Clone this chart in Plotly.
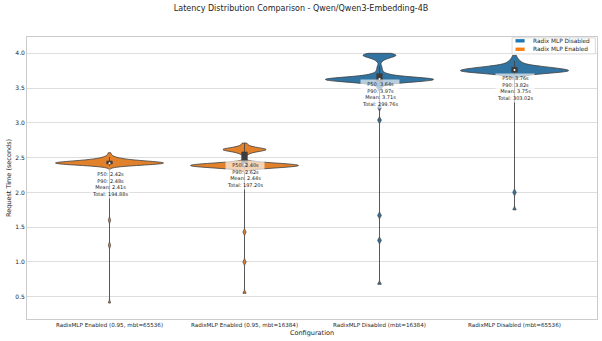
import numpy as np
import plotly.graph_objects as go

# configurations (x order) and their groups
configs = [
    "RadixMLP Enabled (0.95, mbt=65536)",
    "RadixMLP Enabled (0.95, mbt=16384)",
    "RadixMLP Disabled (mbt=16384)",
    "RadixMLP Disabled (mbt=65536)",
]
groups = ["Radix MLP Enabled", "Radix MLP Enabled", "Radix MLP Disabled", "Radix MLP Disabled"]
legend_names = ["Radix MLP Disabled", "Radix MLP Enabled"]

# request times (s), as value / count pairs
enabled_65536_vals = [0.41, 1.24, 1.60, 2.38, 2.39, 2.40, 2.41, 2.42, 2.43, 2.44, 2.45,
                      2.46, 2.47, 2.48, 2.49, 2.50, 2.51, 2.53, 2.57]
enabled_65536_counts = [1, 1, 1, 2, 4, 7, 11, 14, 11, 8, 6, 4, 3, 2, 2, 1, 1, 1, 1]

enabled_16384_vals = [0.55, 1.00, 1.43, 2.34, 2.35, 2.36, 2.37, 2.38, 2.39, 2.40, 2.41,
                      2.42, 2.43, 2.44, 2.54, 2.56, 2.58, 2.60, 2.61, 2.62, 2.63, 2.64,
                      2.66, 2.68, 2.71]
enabled_16384_counts = [1, 1, 1, 2, 3, 5, 7, 8, 8, 8, 6, 4, 2, 1, 1, 1, 2, 3, 4, 4, 3, 2,
                        1, 1, 1]

disabled_16384_vals = [0.68, 1.31, 1.67, 3.04, 3.22, 3.50, 3.54, 3.56, 3.58, 3.59, 3.60,
                       3.61, 3.62, 3.63, 3.64, 3.65, 3.66, 3.68, 3.70, 3.72, 3.75, 3.78,
                       3.82, 3.88, 3.91, 3.93, 3.95, 3.96, 3.97, 3.98, 3.99, 4.00]
disabled_16384_counts = [1, 1, 1, 1, 1, 1, 1, 2, 3, 4, 5, 6, 7, 7, 6, 5, 4, 3, 2, 1, 1, 1,
                         1, 1, 1, 2, 2, 2, 2, 2, 2, 2]

disabled_65536_vals = [1.75, 2.00, 3.67, 3.69, 3.71, 3.72, 3.73, 3.74, 3.75, 3.76, 3.77,
                       3.78, 3.79, 3.80, 3.81, 3.82, 3.83, 3.85, 3.87, 3.89, 3.91, 3.93, 3.97]
disabled_65536_counts = [1, 1, 2, 3, 4, 5, 6, 7, 7, 7, 6, 5, 5, 4, 3, 3, 2, 2, 2, 1, 1, 1, 1]

stat_labels = [
    "P50: 2.42s<br>P90: 2.48s<br>Mean: 2.41s<br>Total: 194.88s",
    "P50: 2.40s<br>P90: 2.62s<br>Mean: 2.44s<br>Total: 197.20s",
    "P50: 3.64s<br>P90: 3.97s<br>Mean: 3.71s<br>Total: 299.76s",
    "P50: 3.76s<br>P90: 3.82s<br>Mean: 3.75s<br>Total: 303.02s",
]

samples = [
    np.repeat(enabled_65536_vals, enabled_65536_counts),
    np.repeat(enabled_16384_vals, enabled_16384_counts),
    np.repeat(disabled_16384_vals, disabled_16384_counts),
    np.repeat(disabled_65536_vals, disabled_65536_counts),
]

colors = {"Radix MLP Disabled": "#3274a1", "Radix MLP Enabled": "#e1812c"}
legend_colors = {"Radix MLP Disabled": "#1f77b4", "Radix MLP Enabled": "#ff7f0e"}
edge = "#3d3d3d"
text_color = "#262626"
font = "DejaVu Sans"

fig = go.Figure()
for cfg, grp, ys in zip(configs, groups, samples):
    fig.add_trace(go.Violin(
        x=[cfg] * len(ys), y=ys, name=grp, showlegend=False,
        fillcolor=colors[grp], line=dict(color=edge, width=0.8), opacity=1,
        spanmode="hard", bandwidth=0.022, scalemode="width", width=0.8,
        points=False,
        box=dict(visible=True, width=0.05, fillcolor=edge, line=dict(color=edge, width=0.8)),
    ))

# white median dots like seaborn's inner box
fig.add_trace(go.Scatter(
    x=configs, y=[np.median(s) for s in samples], mode="markers",
    marker=dict(color="white", size=2), showlegend=False, hoverinfo="skip",
))

label_top = [2.33, 2.465, 3.63, 3.72]
for cfg, txt, yt in zip(configs, stat_labels, label_top):
    fig.add_annotation(
        x=cfg, y=yt, text=txt, showarrow=False, yanchor="top", xanchor="center",
        font=dict(family=font, size=5, color="#222222"),
        bgcolor="rgba(255,255,255,0.65)", borderpad=1,
    )

# small matplotlib-style legend box, top right
fig.add_shape(type="rect", xref="paper", yref="paper", x0=0.851, x1=0.997, y0=0.940, y1=0.997,
              line=dict(color="#d0d0d0", width=0.8), fillcolor="rgba(255,255,255,0.9)", layer="above")
for i, name in enumerate(legend_names):
    yc = 0.9865 - i * 0.030
    fig.add_shape(type="rect", xref="paper", yref="paper", x0=0.857, x1=0.873,
                  y0=yc - 0.006, y1=yc + 0.006, line=dict(width=0),
                  fillcolor=legend_colors[name], layer="above")
    fig.add_annotation(x=0.884, y=yc, xref="paper", yref="paper", text=name, showarrow=False,
                       xanchor="left", yanchor="middle",
                       font=dict(family=font, size=5.8, color=text_color))

fig.update_layout(
    width=602, height=341,
    margin=dict(l=27, r=5, t=37, b=22),
    paper_bgcolor="white", plot_bgcolor="white",
    font=dict(family=font, size=6, color=text_color),
    title=dict(text="Latency Distribution Comparison - Qwen/Qwen3-Embedding-4B",
               x=0.5, xanchor="center", y=0.977, yanchor="middle",
               font=dict(size=8, color=text_color)),
    violinmode="overlay",
    showlegend=False,
)
fig.update_xaxes(
    categoryorder="array", categoryarray=configs,
    showgrid=False, showline=True, linecolor="#cccccc", linewidth=0.8, mirror=True,
    ticks="", tickfont=dict(size=5.6, color=text_color), automargin=False,
    title=dict(text="Configuration", font=dict(size=6.5, color=text_color), standoff=3),
)
fig.update_yaxes(
    range=[0.18, 4.235], dtick=0.5, tickformat=".1f",
    showgrid=True, gridcolor="#dedede", gridwidth=0.8, zeroline=False,
    showline=True, linecolor="#cccccc", linewidth=0.8, mirror=True,
    ticks="", tickfont=dict(size=6, color=text_color), automargin=False,
    title=dict(text="Request Time (seconds)", font=dict(size=6.5, color=text_color), standoff=3),
)

fig.write_html("out.html", config={"displayModeBar": False},
               post_script="document.body.style.margin='0';")
